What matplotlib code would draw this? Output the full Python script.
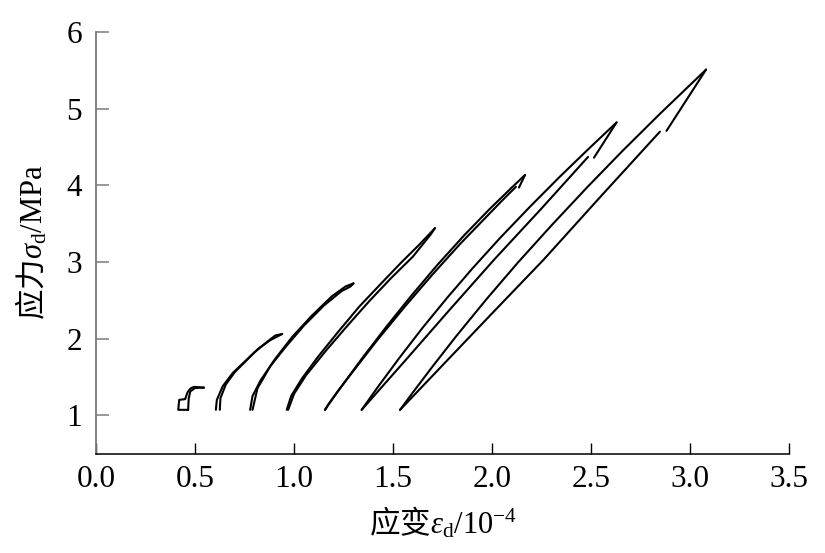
import matplotlib
matplotlib.use("Agg")
import matplotlib.pyplot as plt

plt.rcParams['font.family'] = ['Liberation Serif', 'Noto Sans CJK SC']
plt.rcParams['mathtext.fontset'] = 'custom'
plt.rcParams['mathtext.rm'] = 'Liberation Serif'
plt.rcParams['mathtext.it'] = 'Liberation Serif:italic'
plt.rcParams['mathtext.sf'] = 'Noto Sans CJK SC'   # 中文字放在 \mathsf 里

# 应变 (10^-4) / 应力 (MPa) 读图数据, 每个循环: 加载 + 卸载
load1_x = [0.465, 0.415, 0.420, 0.450, 0.462, 0.478, 0.495, 0.545]
load1_y = [1.07, 1.07, 1.20, 1.21, 1.30, 1.35, 1.37, 1.36]
unload1_x = [0.545, 0.500, 0.476, 0.468, 0.465]
unload1_y = [1.36, 1.355, 1.31, 1.22, 1.07]

load2_x = [0.605, 0.610, 0.640, 0.690, 0.755, 0.820, 0.880, 0.940]
load2_y = [1.07, 1.20, 1.38, 1.55, 1.71, 1.87, 1.98, 2.06]
unload2_x = [0.940, 0.905, 0.860, 0.800, 0.750, 0.700, 0.655, 0.628, 0.625]
unload2_y = [2.06, 2.04, 1.95, 1.82, 1.69, 1.56, 1.40, 1.22, 1.07]

load3_x = [0.778, 0.790, 0.830, 0.900, 0.990, 1.090, 1.190, 1.260, 1.300]
load3_y = [1.07, 1.25, 1.45, 1.72, 2.02, 2.30, 2.55, 2.68, 2.72]
unload3_x = [1.300, 1.285, 1.240, 1.150, 1.050, 0.960, 0.880, 0.815, 0.790]
unload3_y = [2.72, 2.68, 2.62, 2.43, 2.17, 1.90, 1.64, 1.35, 1.07]

load4_x = [0.963, 0.985, 1.040, 1.120, 1.220, 1.330, 1.440, 1.540, 1.630, 1.711]
load4_y = [1.07, 1.25, 1.48, 1.76, 2.08, 2.42, 2.72, 2.99, 3.22, 3.44]
unload4_x = [1.711, 1.690, 1.600, 1.490, 1.380, 1.270, 1.160, 1.060, 1.000, 0.970]
unload4_y = [3.44, 3.36, 3.07, 2.79, 2.49, 2.17, 1.84, 1.52, 1.28, 1.07]

load5_x = [1.156, 1.190, 1.230, 1.350, 1.470, 1.590, 1.720, 1.860, 1.990, 2.090, 2.166]
load5_y = [1.07, 1.198, 1.344, 1.765, 2.168, 2.553, 2.951, 3.351, 3.697, 3.948, 4.135]
unload5_top_x = [2.166, 2.135]
unload5_top_y = [4.135, 3.97]
unload5_x = [2.120, 2.050, 1.960, 1.840, 1.700, 1.560, 1.420, 1.300, 1.220, 1.175, 1.156]
unload5_y = [3.98, 3.80, 3.56, 3.24, 2.84, 2.42, 1.98, 1.58, 1.31, 1.15, 1.07]

load6_x = [1.341, 1.420, 1.530, 1.650, 1.775, 1.900, 2.040, 2.190, 2.340, 2.490, 2.628]
load6_y = [1.07, 1.358, 1.743, 2.145, 2.539, 2.914, 3.313, 3.718, 4.108, 4.483, 4.82]
unload6_top_x = [2.628, 2.514]
unload6_top_y = [4.82, 4.36]
unload6_x = [2.484, 2.250, 2.010, 1.780, 1.560, 1.341]
unload6_y = [4.37, 3.70, 3.03, 2.36, 1.71, 1.07]

load7_x = [1.535, 1.600, 1.700, 1.820, 1.970, 2.130, 2.300, 2.480, 2.660, 2.850, 3.080]
load7_y = [1.07, 1.298, 1.639, 2.036, 2.510, 2.992, 3.478, 3.975, 4.454, 4.940, 5.51]
unload7_top_x = [3.080, 2.880]
unload7_top_y = [5.51, 4.71]
unload7_x = [2.847, 2.550, 2.260, 2.000, 1.760, 1.535]
unload7_y = [4.70, 3.86, 3.03, 2.33, 1.68, 1.07]

curves = [
    (load1_x, load1_y), (unload1_x, unload1_y),
    (load2_x, load2_y), (unload2_x, unload2_y),
    (load3_x, load3_y), (unload3_x, unload3_y),
    (load4_x, load4_y), (unload4_x, unload4_y),
    (load5_x, load5_y), (unload5_top_x, unload5_top_y), (unload5_x, unload5_y),
    (load6_x, load6_y), (unload6_top_x, unload6_top_y), (unload6_x, unload6_y),
    (load7_x, load7_y), (unload7_top_x, unload7_top_y), (unload7_x, unload7_y),
]

x_ticks = [0.0, 0.5, 1.0, 1.5, 2.0, 2.5, 3.0, 3.5]
y_ticks = [1, 2, 3, 4, 5, 6]

fig = plt.figure(figsize=(8.25, 5.53), dpi=100)
ax = fig.add_axes([0.1164, 0.1799, 0.8403, 0.7622])

for cx, cy in curves:
    ax.plot(cx, cy, color='black', lw=1.5, solid_joinstyle='round', solid_capstyle='round')

ax.set_xlim(0, 3.5)
ax.set_ylim(0.5, 6)
ax.set_xticks(x_ticks)
ax.set_xticklabels(['%.1f' % v for v in x_ticks])
ax.set_yticks(y_ticks)
ax.set_yticklabels([str(v) for v in y_ticks])

ax.spines['top'].set_visible(False)
ax.spines['right'].set_visible(False)
ax.spines['left'].set_color('#7a7a7a')
ax.spines['left'].set_linewidth(1.3)
ax.spines['bottom'].set_color('black')
ax.spines['bottom'].set_linewidth(1.1)
ax.tick_params(axis='y', direction='in', length=9.5, width=1.1, colors='#7a7a7a',
               labelcolor='black', labelsize=22.5, pad=10)
ax.tick_params(axis='x', direction='in', length=8, width=1.0, colors='black',
               labelsize=22.5, pad=8)

ax.set_xlabel('$\\mathsf{应变}\\varepsilon_{\\rm d}/10^{-4}$', fontsize=22, labelpad=8)
ax.set_ylabel('$\\mathsf{应力}\\sigma_{\\rm d}/\\rm MPa$', fontsize=22, labelpad=12)

fig.savefig('out.png', dpi=100)
